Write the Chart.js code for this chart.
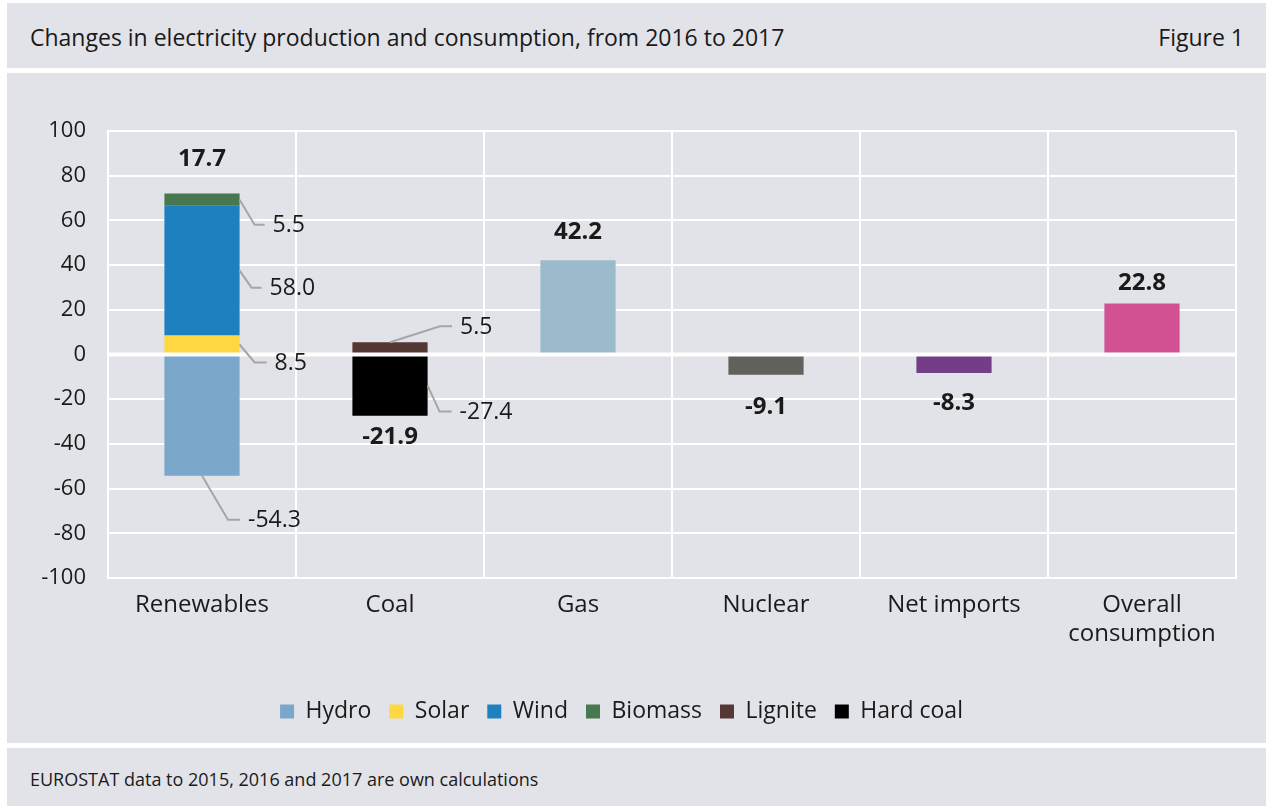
<!DOCTYPE html>
<html>
<head>
<meta charset="utf-8">
<script src="https://cdn.jsdelivr.net/npm/chart.js@4"></script>
<style>
  html, body { margin: 0; padding: 0; background: #ffffff; }
  body { width: 1266px; height: 806px; position: relative; overflow: hidden; font-family: "Open Sans", sans-serif; color: #1a1a1a; }
  .band { position: absolute; left: 7px; right: 0; background: #e2e3e8; }
  #head { top: 3px; height: 65px; }
  #head .title { position: absolute; left: 23px; top: 18px; font-size: 23px; }
  #head .fig { position: absolute; right: 22px; top: 18px; font-size: 23px; }
  #main { top: 73px; height: 670px; }
  #main canvas { display: block; }
  #foot { top: 748px; height: 58px; }
  #foot .src { position: absolute; left: 23px; top: 19px; font-size: 18px; }
</style>
</head>
<body>
<div class="band" id="head"><span class="title">Changes in electricity production and consumption, from 2016 to 2017</span><span class="fig">Figure 1</span></div>
<div class="band" id="main"><canvas id="graph" width="1259" height="670"></canvas></div>
<div class="band" id="foot"><span class="src">EUROSTAT data to 2015, 2016 and 2017 are own calculations</span></div>
<script>
// values (change 2016 -> 2017)
const categories = ['Renewables', 'Coal', 'Gas', 'Nuclear', 'Net imports', ['Overall', 'consumption']]
const hydro = [-54.3, null, null, null, null, null]
const solar = [8.5, null, null, null, null, null]
const wind = [58.0, null, null, null, null, null]
const biomass = [5.5, null, null, null, null, null]
const lignite = [null, 5.5, null, null, null, null]
const hardCoal = [null, -27.4, null, null, null, null]
const gas = [null, null, 42.2, null, null, null]
const nuclear = [null, null, null, -9.1, null, null]
const netImports = [null, null, null, null, -8.3, null]
const overall = [null, null, null, null, null, 22.8]
const yTicks = { min: -100, max: 100, step: 20 }

// where the little leader-line labels go (pixels, style only)
const leader = {
  Hydro: { anchor: 'bottom', dx: 26, dy: 44, run: 12 },
  Solar: { anchor: 'right', dx: 15, dy: 18, run: 12 },
  Wind: { anchor: 'right', dx: 12, dy: 17, run: 10 },
  Biomass: { anchor: 'right', dx: 15, dy: 25, run: 10 },
  Lignite: { anchor: 'top', dx: 50, dy: -16, run: 12 },
  'Hard coal': { anchor: 'right', dx: 12, dy: 26, run: 12 }
}
const totalGap = [34, 21, 28, 32, 30, 20]

const textColor = '#1a1a1a'
const fontFamily = '"Open Sans", sans-serif'

function makeSet(label, data, color, legend) {
  return { label: label, data: data, backgroundColor: color, inLegend: legend }
}

const datasets = [
  makeSet('Hydro', hydro, '#7ba7cb', true),
  makeSet('Solar', solar, '#fdd843', true),
  makeSet('Wind', wind, '#1f80c0', true),
  makeSet('Biomass', biomass, '#47784f', true),
  makeSet('Lignite', lignite, '#553734', true),
  makeSet('Hard coal', hardCoal, '#000000', true),
  makeSet('Gas', gas, '#9bbacb', false),
  makeSet('Nuclear', nuclear, '#62625c', false),
  makeSet('Net imports', netImports, '#743d88', false),
  makeSet('Overall consumption', overall, '#d15192', false)
]

const labelPlugin = {
  id: 'labelPlugin',
  afterDatasetsDraw(chart) {
    const ctx = chart.ctx
    const area = chart.chartArea
    const y0 = chart.scales.y.getPixelForValue(0)

    // thick white zero line over the bars
    ctx.save()
    ctx.strokeStyle = '#ffffff'
    ctx.lineWidth = 4
    ctx.beginPath()
    ctx.moveTo(area.left, y0)
    ctx.lineTo(area.right, y0)
    ctx.stroke()

    // segment labels with leader lines
    ctx.font = '23px ' + fontFamily
    ctx.textBaseline = 'middle'
    ctx.textAlign = 'left'
    chart.data.datasets.forEach((ds, i) => {
      const cfg = leader[ds.label]
      if (!cfg) return
      const meta = chart.getDatasetMeta(i)
      ds.data.forEach((v, j) => {
        if (v === null) return
        const bar = meta.data[j]
        const p = bar.getProps(['x', 'y', 'base', 'width'], true)
        let ax, ay
        if (cfg.anchor === 'right') { ax = p.x + p.width / 2; ay = (p.y + p.base) / 2 }
        else if (cfg.anchor === 'bottom') { ax = p.x; ay = Math.max(p.y, p.base) }
        else { ax = p.x; ay = Math.min(p.y, p.base) }
        const ex = ax + cfg.dx, ey = ay + cfg.dy
        ctx.strokeStyle = '#a6a6a6'
        ctx.lineWidth = 2
        ctx.beginPath()
        ctx.moveTo(ax, ay)
        ctx.lineTo(ex, ey)
        ctx.lineTo(ex + cfg.run, ey)
        ctx.stroke()
        ctx.fillStyle = textColor
        ctx.fillText(v.toFixed(1), ex + cfg.run + 8, ey + 1)
      })
    })

    // bold totals per category
    ctx.font = 'bold 24px ' + fontFamily
    ctx.textAlign = 'center'
    chart.data.labels.forEach((c, j) => {
      let total = 0, top = y0, bottom = y0, x = null
      chart.data.datasets.forEach((ds, i) => {
        const v = ds.data[j]
        if (v === null) return
        total += v
        const p = chart.getDatasetMeta(i).data[j].getProps(['x', 'y'], true)
        x = p.x
        top = Math.min(top, p.y)
        bottom = Math.max(bottom, p.y)
      })
      if (x === null) return
      const ty = total >= 0 ? top - totalGap[j] : bottom + totalGap[j]
      ctx.fillStyle = textColor
      ctx.fillText(total.toFixed(1), x, ty)
    })
    ctx.restore()
  }
}

const graph = new Chart(document.getElementById('graph'), {
  type: 'bar',
  data: { labels: categories, datasets: datasets },
  options: {
    responsive: false,
    animation: false,
    barPercentage: 0.4,
    categoryPercentage: 1.0,
    layout: { padding: { top: 58, right: 30, left: 0, bottom: 10 } },
    plugins: {
      tooltip: { enabled: false },
      legend: {
        position: 'bottom',
        labels: {
          filter: (item, data) => data.datasets[item.datasetIndex].inLegend,
          boxWidth: 14,
          boxHeight: 14,
          padding: 18,
          color: textColor,
          font: { family: fontFamily, size: 23 }
        }
      }
    },
    scales: {
      x: {
        stacked: true,
        grid: { color: '#ffffff', lineWidth: 2, drawTicks: false, offset: true },
        border: { color: '#ffffff', width: 2 },
        ticks: { color: textColor, padding: 13, font: { family: fontFamily, size: 24 } },
        afterFit: scale => { scale.height = 104 }
      },
      y: {
        stacked: true,
        min: yTicks.min,
        max: yTicks.max,
        grid: { color: '#ffffff', lineWidth: 2, drawTicks: false },
        border: { color: '#ffffff', width: 2 },
        ticks: { stepSize: yTicks.step, color: textColor, padding: 22, font: { family: fontFamily, size: 22 } },
        afterFit: scale => { scale.width = 101 }
      }
    }
  },
  plugins: [labelPlugin]
})
</script>
</body>
</html>
